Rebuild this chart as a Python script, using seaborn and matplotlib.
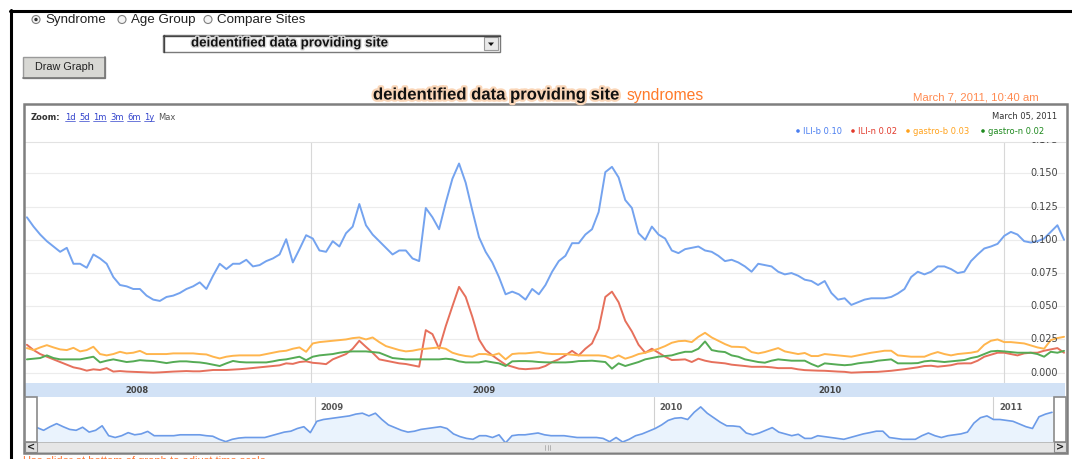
import pandas as pd
import matplotlib
matplotlib.use("Agg")
import matplotlib.pyplot as plt
import matplotlib.patheffects as pe
from matplotlib.patches import Rectangle, Circle, Polygon
from matplotlib.lines import Line2D
from matplotlib.transforms import Affine2D
import seaborn as sns

# ---------- weekly rates, 2008-03-08 .. 2011-03-05 ----------
weeks = pd.date_range("2008-03-08", "2011-03-05", freq="7D")

ili_b = [
    0.117, 0.110, 0.104, 0.099, 0.095, 0.091, 0.094, 0.082, 0.082, 0.079,
    0.089, 0.086, 0.082, 0.072, 0.066, 0.065, 0.063, 0.063, 0.058, 0.055,
    0.054, 0.057, 0.058, 0.060, 0.063, 0.065, 0.068, 0.063, 0.073, 0.082,
    0.078, 0.082, 0.082, 0.085, 0.080, 0.081, 0.084, 0.086, 0.089, 0.1005,
    0.083, 0.093, 0.1035, 0.101, 0.092, 0.091, 0.099, 0.095, 0.105, 0.110,
    0.127, 0.111, 0.104, 0.099, 0.094, 0.089, 0.092, 0.092, 0.086, 0.084,
    0.124, 0.117, 0.108, 0.128, 0.146, 0.1575, 0.143, 0.122, 0.102, 0.091,
    0.083, 0.072, 0.059, 0.061, 0.059, 0.055, 0.063, 0.059, 0.066, 0.076,
    0.084, 0.088, 0.0975, 0.0975, 0.104, 0.108, 0.121, 0.151, 0.155, 0.147,
    0.130, 0.124, 0.105, 0.100, 0.110, 0.104, 0.101, 0.092, 0.090, 0.093,
    0.094, 0.095, 0.092, 0.091, 0.088, 0.084, 0.085, 0.083, 0.080, 0.076,
    0.082, 0.081, 0.080, 0.076, 0.074, 0.075, 0.073, 0.070, 0.069, 0.066,
    0.069, 0.060, 0.055, 0.056, 0.051, 0.053, 0.055, 0.056, 0.056, 0.056,
    0.057, 0.0596, 0.063, 0.072, 0.076, 0.074, 0.076, 0.080, 0.080, 0.078,
    0.075, 0.076, 0.084, 0.089, 0.0935, 0.095, 0.097, 0.103, 0.106, 0.104,
    0.099, 0.098, 0.099, 0.101, 0.106, 0.111, 0.100,
]

ili_n = [
    0.021, 0.017, 0.014, 0.012, 0.010, 0.008, 0.006, 0.004, 0.003, 0.0015,
    0.0025, 0.002, 0.0034, 0.0008, 0.0012, 0.0008, 0.0006, 0.0004, 0.0002, 0.0,
    0.0002, 0.0005, 0.0008, 0.001, 0.0012, 0.001, 0.001, 0.0015, 0.002, 0.002,
    0.002, 0.0023, 0.0026, 0.003, 0.0035, 0.004, 0.0045, 0.005, 0.0055, 0.007,
    0.0066, 0.008, 0.0085, 0.0074, 0.007, 0.0064, 0.010, 0.012, 0.014, 0.018,
    0.024, 0.0194, 0.015, 0.010, 0.009, 0.008, 0.007, 0.0065, 0.0055, 0.0045,
    0.032, 0.029, 0.018, 0.035, 0.050, 0.0646, 0.057, 0.042, 0.025, 0.017,
    0.013, 0.0094, 0.006, 0.0045, 0.003, 0.0026, 0.003, 0.0033, 0.005, 0.008,
    0.010, 0.013, 0.0164, 0.013, 0.018, 0.022, 0.033, 0.057, 0.061, 0.053,
    0.039, 0.031, 0.021, 0.015, 0.018, 0.015, 0.012, 0.0095, 0.0097, 0.010,
    0.008, 0.0105, 0.009, 0.008, 0.0075, 0.007, 0.006, 0.0055, 0.005, 0.0044,
    0.0044, 0.0044, 0.004, 0.0034, 0.0034, 0.0034, 0.0025, 0.0019, 0.0017, 0.0015,
    0.0014, 0.0011, 0.0008, 0.0006, 0.0, 0.0002, 0.0004, 0.0005, 0.0006, 0.001,
    0.0014, 0.002, 0.0026, 0.0033, 0.004, 0.005, 0.0052, 0.0045, 0.005, 0.0056,
    0.0068, 0.007, 0.007, 0.009, 0.012, 0.0135, 0.015, 0.015, 0.014, 0.013,
    0.0145, 0.015, 0.015, 0.0165, 0.0175, 0.0185, 0.015,
]

gastro_b = [
    0.0185, 0.017, 0.019, 0.0207, 0.019, 0.0175, 0.017, 0.0187, 0.016, 0.017,
    0.0195, 0.014, 0.013, 0.014, 0.0157, 0.0145, 0.015, 0.0164, 0.014, 0.014,
    0.014, 0.014, 0.0145, 0.0145, 0.0145, 0.0145, 0.014, 0.0137, 0.012, 0.0107,
    0.012, 0.0127, 0.013, 0.013, 0.013, 0.013, 0.014, 0.015, 0.016, 0.0165,
    0.018, 0.019, 0.0157, 0.022, 0.023, 0.0235, 0.024, 0.0245, 0.025, 0.026,
    0.0265, 0.025, 0.0265, 0.023, 0.020, 0.0185, 0.017, 0.016, 0.0165, 0.0175,
    0.018, 0.0185, 0.019, 0.018, 0.015, 0.0135, 0.0125, 0.012, 0.014, 0.014,
    0.013, 0.0145, 0.010, 0.014, 0.0145, 0.0145, 0.015, 0.0155, 0.0145, 0.014,
    0.014, 0.014, 0.0135, 0.013, 0.013, 0.013, 0.013, 0.0125, 0.0107, 0.013,
    0.0105, 0.012, 0.014, 0.015, 0.0165, 0.018, 0.020, 0.0225, 0.0237, 0.024,
    0.023, 0.027, 0.030, 0.0265, 0.024, 0.0215, 0.0195, 0.0194, 0.019, 0.0155,
    0.0145, 0.0155, 0.017, 0.0185, 0.016, 0.015, 0.014, 0.0148, 0.0125, 0.0125,
    0.014, 0.0135, 0.013, 0.0125, 0.012, 0.013, 0.014, 0.015, 0.0157, 0.0165,
    0.0165, 0.013, 0.0125, 0.012, 0.012, 0.012, 0.014, 0.0155, 0.014, 0.013,
    0.014, 0.0145, 0.015, 0.016, 0.021, 0.024, 0.025, 0.023, 0.023, 0.0225,
    0.022, 0.0205, 0.019, 0.018, 0.0245, 0.026, 0.027,
]

gastro_n = [
    0.010, 0.0105, 0.011, 0.013, 0.011, 0.010, 0.010, 0.010, 0.010, 0.011,
    0.012, 0.0077, 0.009, 0.010, 0.009, 0.008, 0.0085, 0.0094, 0.009, 0.0088,
    0.008, 0.0072, 0.008, 0.0085, 0.0085, 0.008, 0.0077, 0.007, 0.006, 0.005,
    0.007, 0.0088, 0.008, 0.0077, 0.0077, 0.0077, 0.0077, 0.0085, 0.0095, 0.010,
    0.011, 0.012, 0.0094, 0.012, 0.013, 0.0135, 0.014, 0.015, 0.0157, 0.016,
    0.016, 0.016, 0.0155, 0.015, 0.013, 0.011, 0.0105, 0.010, 0.010, 0.010,
    0.010, 0.010, 0.010, 0.0105, 0.010, 0.0085, 0.0077, 0.0077, 0.0077, 0.0087,
    0.0078, 0.007, 0.005, 0.0085, 0.0087, 0.0087, 0.0085, 0.008, 0.0078, 0.0077,
    0.0077, 0.0077, 0.008, 0.0087, 0.0088, 0.009, 0.0085, 0.008, 0.003, 0.007,
    0.005, 0.0065, 0.008, 0.010, 0.011, 0.012, 0.0125, 0.013, 0.0145, 0.0157,
    0.0157, 0.018, 0.0235, 0.017, 0.016, 0.0155, 0.013, 0.012, 0.010, 0.009,
    0.008, 0.0075, 0.009, 0.010, 0.0095, 0.009, 0.009, 0.009, 0.0065, 0.0045,
    0.007, 0.0065, 0.006, 0.0056, 0.006, 0.007, 0.0076, 0.008, 0.009, 0.0095,
    0.010, 0.007, 0.007, 0.007, 0.0072, 0.0085, 0.009, 0.0085, 0.008, 0.0085,
    0.009, 0.0095, 0.011, 0.012, 0.014, 0.016, 0.0164, 0.016, 0.0155, 0.015,
    0.015, 0.015, 0.014, 0.012, 0.0157, 0.015, 0.0164,
]

series_names = ["ILI-b", "ILI-n", "gastro-b", "gastro-n"]
latest = ["0.10", "0.02", "0.03", "0.02"]
y_ticks = [0.0, 0.025, 0.05, 0.075, 0.1, 0.125, 0.15, 0.175]
years = [2008, 2009, 2010, 2011]
zoom_links = ["1d", "5d", "1m", "3m", "6m", "1y"]

line_colors = ["#74a3ef", "#e6705c", "#ffb54d", "#55ab55"]
key_colors = ["#4a7ef0", "#e23a2c", "#ffa21c", "#1f8a1f"]

sns.set_style("white")
plt.rcParams["font.family"] = ["Liberation Sans", "DejaVu Sans"]

W, H = 1072, 459
fig = plt.figure(figsize=(W / 100, H / 100), dpi=100)
fig.patch.set_facecolor("white")
px = Affine2D().scale(1 / W, -1 / H).translate(0, 1) + fig.transFigure


def px_axes(x0, y0, x1, y1):
    return fig.add_axes([x0 / W, 1 - y1 / H, (x1 - x0) / W, (y1 - y0) / H])


def rect(x, y, w, h, **kw):
    fig.add_artist(Rectangle((x, y), w, h, transform=px, **kw))


def line(xs, ys, **kw):
    fig.add_artist(Line2D(xs, ys, transform=px, **kw))


def text(x, y, s, **kw):
    kw.setdefault("va", "center")
    return fig.text(x, y, s, transform=px, **kw)


# ---------- page frame ----------
line([10, W], [10.5, 10.5], color="black", lw=2.2)
line([10.5, 10.5], [10, H], color="black", lw=2.2)

# radio buttons
for cx, label, on in [(36, "Syndrome", True), (122, "Age Group", False),
                      (208, "Compare Sites", False)]:
    fig.add_artist(Circle((cx, 19.5), 4, transform=px, fc="#f4f4f4", ec="#808080", lw=0.8))
    if on:
        fig.add_artist(Circle((cx, 19.5), 1.7, transform=px, fc="#333333", ec="none"))
    text(cx + 9, 20, label, fontsize=9.6, color="#222222")

# site dropdown
rect(163, 35, 337, 17, fc="white", ec="#7a7a7a", lw=1.0)
line([163, 500], [35.5, 35.5], color="#444444", lw=1.0)
line([163.5, 163.5], [35, 52], color="#444444", lw=1.0)
rect(484, 37, 14, 13, fc="#e9e9e9", ec="#9a9a9a", lw=0.8)
fig.add_artist(Polygon([(488, 42.5), (494, 42.5), (491, 46)], closed=True,
                       transform=px, fc="#111111", ec="none"))
text(191, 43.5, "deidentified data providing site", fontsize=9.6, fontweight="bold",
     color="#111111", path_effects=[pe.withStroke(linewidth=2, foreground="#dddddd")])

# draw button
rect(23, 57, 82, 21, fc="#d8d8d4", ec="#9a9a9a", lw=1.0)
line([23, 105], [77.5, 77.5], color="#777777", lw=1.2)
line([104.5, 104.5], [57, 78], color="#777777", lw=1.2)
text(64, 67.5, "Draw Graph", fontsize=7.8, ha="center", color="#222222")

# title line
text(373, 95, "deidentified data providing site", fontsize=12, fontweight="bold",
     color="#111111", path_effects=[pe.withStroke(linewidth=3.2, foreground="#fad6b8")])
text(627, 95.5, "syndromes", fontsize=11.3, color="#ff7a2a")
text(913, 97, "March 7, 2011, 10:40 am", fontsize=8.2, color="#ff8a50")

# chart box
rect(24, 104, 1043, 348.5, fill=False, ec="#7f7f7f", lw=1.8)

# zoom links
text(31, 117, "Zoom:", fontsize=6.0, fontweight="bold", color="#333333",
     family="DejaVu Sans")
for x0, wd, lab in zip([65, 79, 93, 110, 127, 144], [10, 10, 13, 13, 13, 10], zoom_links):
    text(x0, 117, lab, fontsize=6.0, color="#3344cc", family="DejaVu Sans")
    line([x0, x0 + wd], [120.8, 120.8], color="#3344cc", lw=0.5)
text(158, 117, "Max", fontsize=6.0, color="#555555", family="DejaVu Sans")

text(1057, 116, "March 05, 2011", fontsize=6.0, ha="right", color="#333333",
     family="DejaVu Sans")

# legend row
for dx, name, val, c in zip([798, 853, 908, 983], series_names, latest, key_colors):
    fig.add_artist(Circle((dx, 131), 1.8, transform=px, fc=c, ec="none"))
    text(dx + 5, 131, f"{name} {val}", fontsize=6.0, color=c, family="DejaVu Sans")

# ---------- main plot ----------
ax = px_axes(25, 142, 1065, 383)
for vals, c in zip([ili_b, ili_n, gastro_b, gastro_n], line_colors):
    sns.lineplot(x=weeks, y=vals, ax=ax, color=c, linewidth=1.4, zorder=3)

ax.set_xlim(pd.Timestamp("2008-03-06"), pd.Timestamp("2011-03-06"))
ax.set_ylim(-0.0078, 0.1737)
for v in y_ticks:
    ax.axhline(v, color="#ececec", lw=0.8, zorder=0)
for yr in years[1:]:
    ax.axvline(pd.Timestamp(f"{yr}-01-01"), color="#d8d8d8", lw=0.8, zorder=1)
for v in y_ticks:
    ax.text(0.993, v, f"{v:.3f}", transform=ax.get_yaxis_transform(), ha="right",
            va="center", fontsize=7, color="#444444", family="DejaVu Sans",
            zorder=5, clip_on=True)

ax.set_yticks([])
ax.set_xticks([pd.Timestamp(f"{yr}-01-01") for yr in years[1:]])
ax.set_xticks([pd.Timestamp(f"{yr}-{m:02d}-01") for yr in years for m in (4, 7, 10)
               if pd.Timestamp("2008-03-06") < pd.Timestamp(f"{yr}-{m:02d}-01")
               < pd.Timestamp("2011-03-06")], minor=True)
ax.tick_params(axis="x", which="major", direction="in", length=4, width=1,
               color="#777777", labelbottom=False)
ax.tick_params(axis="x", which="minor", direction="in", length=3, width=0.8,
               color="#aaaaaa", labelbottom=False)
ax.set_xlabel("")
ax.set_ylabel("")
for side in ["left", "right", "bottom"]:
    ax.spines[side].set_visible(False)
ax.spines["top"].set_color("#e2e2e2")

# year band
band = px_axes(25, 383, 1065, 397)
band.set_facecolor("#d2e2f6")
band.set_xlim(ax.get_xlim())
band.set_ylim(0, 1)
band.set_xticks([])
band.set_yticks([])
for s in band.spines.values():
    s.set_visible(False)
for yr in years[:3]:
    band.text(pd.Timestamp(f"{yr}-07-02"), 0.45, str(yr), ha="center", va="center",
              fontsize=6, fontweight="bold", color="#444444", family="DejaVu Sans")

# ---------- overview strip ----------
ov = px_axes(25, 397, 1065, 442)
sns.lineplot(x=weeks, y=gastro_b, ax=ov, color="#6c9be8", linewidth=1.2, zorder=3)
ov.fill_between(weeks, gastro_b, 0, color="#eaf3fd", zorder=2)
ov.set_xlim(pd.Timestamp("2008-02-24"), pd.Timestamp("2011-03-19"))
ov.set_ylim(0.0105, 0.0355)
ov.set_yticks([])
ov.set_xticks([pd.Timestamp(f"{yr}-01-01") for yr in years[1:]])
ov.set_xticks([pd.Timestamp(f"{yr}-{m:02d}-01") for yr in years for m in (4, 7, 10)
               if pd.Timestamp(f"{yr}-{m:02d}-01") < pd.Timestamp("2011-03-01")], minor=True)
ov.tick_params(axis="x", which="major", direction="in", length=4, width=1,
               color="#555555", labelbottom=False)
ov.tick_params(axis="x", which="minor", direction="in", length=2, width=0.6,
               color="#cccccc", labelbottom=False)
ov.set_xlabel("")
ov.set_ylabel("")
for s in ov.spines.values():
    s.set_visible(False)
for yr in years[1:]:
    d = pd.Timestamp(f"{yr}-01-01")
    ov.axvline(d, color="#d0d0d0", lw=0.8, zorder=1)
    ov.text(d + pd.Timedelta(days=6), 0.76, str(yr), transform=ov.get_xaxis_transform(),
            ha="left", va="center", fontsize=6, fontweight="bold", color="#555555",
            family="DejaVu Sans")

# range handles
for hx in (25, 1054):
    rect(hx, 397, 12, 45, fc="white", ec="#8a8a8a", lw=1.2)

# scrollbar
rect(25, 442, 1041, 10, fc="#e6e6e6", ec="#b4b4b4", lw=0.6)
for bx, sym in [(25, "<"), (1054, ">")]:
    rect(bx, 442, 12, 10, fc="#dedede", ec="#8a8a8a", lw=0.8)
    text(bx + 6, 447, sym, fontsize=7, fontweight="bold", ha="center", color="#222222",
         family="DejaVu Sans")
for gx in (545, 547.5, 550):
    line([gx, gx], [444.5, 449.5], color="#aaaaaa", lw=0.6)

# hint below the chart; the screenshot cuts it off half way, as in the reference
text(23, 455.5, "Use slider at bottom of graph to adjust time scale", fontsize=8,
     color="#ff7a3a", va="top")

fig.savefig("out.png", dpi=100, facecolor="white")
